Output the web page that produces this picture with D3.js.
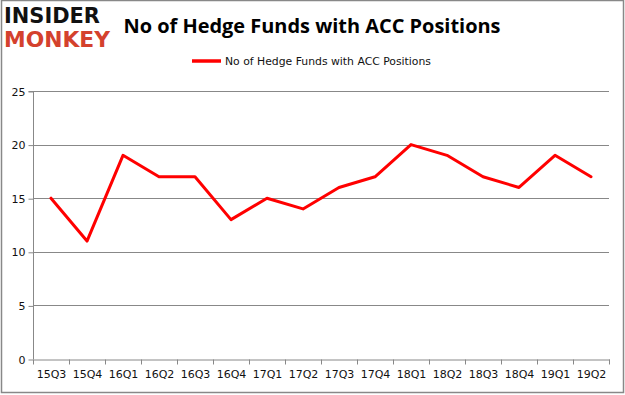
<!DOCTYPE html>
<html>
<head>
<meta charset="utf-8">
<script src="https://cdn.jsdelivr.net/npm/d3@7"></script>
<style>
  body { margin: 0; background: #fff; }
  svg { display: block; font-family: "Liberation Sans", "DejaVu Sans", sans-serif; }
</style>
</head>
<body>
<div id="chart"></div>
<script>
const quarters = ["15Q3", "15Q4", "16Q1", "16Q2", "16Q3", "16Q4", "17Q1", "17Q2",
    "17Q3", "17Q4", "18Q1", "18Q2", "18Q3", "18Q4", "19Q1", "19Q2"];
const funds = [15, 11, 19, 17, 17, 13, 15, 14, 16, 17, 20, 19, 17, 16, 19, 17];
const yTicks = [0, 5, 10, 15, 20, 25];
const seriesName = "No of Hedge Funds with ACC Positions";
const chartTitle = "No of Hedge Funds with ACC Positions";

const width = 625, height = 395;
const margin = { top: 91, right: 16, bottom: 36, left: 33 };

const svg = d3.select("#chart")
    .append("svg")
    .attr("width", width)
    .attr("height", height);

// outer border
svg.append("rect")
    .attr("x", 1.5).attr("y", 0.5)
    .attr("width", 622).attr("height", 392)
    .attr("fill", "#fff")
    .attr("stroke", "#888")
    .attr("stroke-width", 1.5);

// logo
svg.append("text")
    .attr("x", 4).attr("y", 23)
    .attr("textLength", 96)
    .attr("lengthAdjust", "spacingAndGlyphs")
    .style("font", "bold 21px 'DejaVu Sans'")
    .attr("fill", "#111")
    .text("INSIDER");
svg.append("text")
    .attr("x", 4).attr("y", 47)
    .attr("textLength", 106)
    .attr("lengthAdjust", "spacingAndGlyphs")
    .style("font", "bold 21px 'DejaVu Sans'")
    .attr("fill", "#d4412d")
    .text("MONKEY");

// title
svg.append("text")
    .attr("x", 312).attr("y", 33)
    .attr("text-anchor", "middle")
    .attr("textLength", 377)
    .attr("lengthAdjust", "spacingAndGlyphs")
    .style("font", "bold 20px 'Open Sans', sans-serif")
    .attr("fill", "#000")
    .text(chartTitle);

const xScale = d3.scaleBand()
    .domain(quarters)
    .range([margin.left, width - margin.right]);

const yScale = d3.scaleLinear()
    .domain([0, 25])
    .range([height - margin.bottom, margin.top]);

// gridlines
svg.append("g")
    .selectAll("line")
    .data(yTicks.filter(d => d > 0))
    .enter()
    .append("line")
    .attr("x1", margin.left)
    .attr("x2", width - margin.right)
    .attr("y1", d => Math.round(yScale(d)) + 0.5)
    .attr("y2", d => Math.round(yScale(d)) + 0.5)
    .attr("stroke", "#888")
    .attr("stroke-width", 1);

// y axis
const yAxis = svg.append("g")
    .attr("transform", `translate(${margin.left + 0.5}, 0.5)`)
    .call(d3.axisLeft(yScale).tickValues(yTicks).tickSize(5).tickPadding(3));

// x axis
const xAxis = svg.append("g")
    .attr("transform", `translate(0.5, ${Math.round(yScale(0)) + 0.5})`)
    .call(d3.axisBottom(xScale).tickSize(0).tickPadding(11));

// x ticks at band boundaries
xAxis.selectAll(".bound")
    .data(quarters.concat(["end"]))
    .enter()
    .append("line")
    .attr("class", "bound")
    .attr("x1", (d, i) => Math.round(margin.left + i * xScale.bandwidth()))
    .attr("x2", (d, i) => Math.round(margin.left + i * xScale.bandwidth()))
    .attr("y1", 0).attr("y2", 5)
    .attr("stroke", "#888");

[yAxis, xAxis].forEach(ax => {
    ax.select(".domain").attr("stroke", "#888");
    ax.selectAll(".tick line").attr("stroke", "#888");
    ax.selectAll("text")
        .style("font", "11px 'DejaVu Sans', sans-serif")
        .attr("fill", "#111");
});
yAxis.select(".domain").attr("d", `M-5,${yScale(25)}H0V${yScale(0)}`);

// series line
const line = d3.line()
    .x((d, i) => xScale(quarters[i]) + xScale.bandwidth() / 2)
    .y(d => yScale(d));

svg.append("path")
    .datum(funds)
    .attr("fill", "none")
    .attr("stroke", "#ff0000")
    .attr("stroke-width", 3)
    .attr("stroke-linejoin", "round")
    .attr("stroke-linecap", "round")
    .attr("d", line);

// legend
const legend = svg.append("g").attr("transform", "translate(192, 61)");
legend.append("line")
    .attr("x1", 0).attr("x2", 29)
    .attr("stroke", "#ff0000")
    .attr("stroke-width", 3.5);
legend.append("text")
    .attr("x", 33).attr("y", 4)
    .style("font", "11px 'DejaVu Sans', sans-serif")
    .attr("textLength", 206)
    .attr("lengthAdjust", "spacingAndGlyphs")
    .attr("fill", "#111")
    .text(seriesName);
</script>
</body>
</html>
